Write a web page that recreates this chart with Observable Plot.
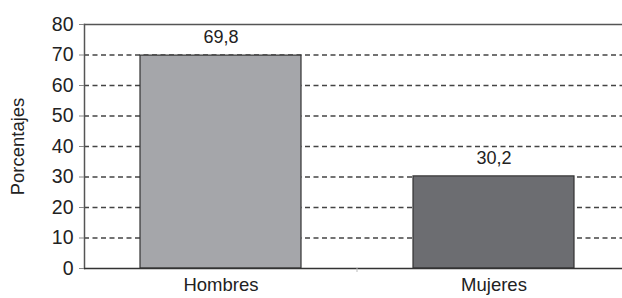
<!DOCTYPE html>
<html>
<head>
<meta charset="utf-8">
<script src="https://cdn.jsdelivr.net/npm/d3@7"></script>
<script src="https://cdn.jsdelivr.net/npm/@observablehq/plot@0.6"></script>
<style>
  html, body { margin: 0; padding: 0; background: #fff; overflow: hidden; }
  #chart { width: 622px; height: 298px; overflow: hidden; }
</style>
</head>
<body>
<div id="chart"></div>
<script>
const categories = ["Hombres", "Mujeres"];
const values = [69.8, 30.2];
const valueLabels = ["69,8", "30,2"];
const barColors = ["#a5a6aa", "#6c6d71"];
const yTicks = [0, 10, 20, 30, 40, 50, 60, 70, 80];
const gridTicks = [10, 20, 30, 40, 50, 60, 70];

const data = categories.map((c, i) => ({cat: c, value: values[i], label: valueLabels[i], color: barColors[i]}));
const font = "Liberation Sans, Arial, Helvetica, sans-serif";

const plot = Plot.plot({
  width: 622,
  height: 298,
  marginLeft: 84,
  marginRight: -8,
  marginTop: 24,
  marginBottom: 30,
  style: {fontFamily: font, fontSize: "18px", color: "#222", background: "#fff"},
  x: {domain: categories, paddingInner: 0.41, paddingOuter: 0.205, label: null},
  y: {domain: [0, 80], label: null},
  marks: [
    Plot.ruleY(gridTicks, {stroke: "#444", strokeWidth: 1.3, strokeDasharray: "5,3.5"}),
    Plot.barY(data, {x: "cat", y: "value", fill: "color", stroke: "#333", strokeWidth: 1.2}),
    Plot.text(data, {x: "cat", y: "value", text: "label", dy: -18, fill: "#222", fontSize: 18}),
    Plot.frame({anchor: "top", stroke: "#555", strokeWidth: 1.5}),
    Plot.frame({anchor: "left", stroke: "#555", strokeWidth: 1.5}),
    Plot.ruleY([0], {stroke: "#333", strokeWidth: 1.5}),
    Plot.axisY({ticks: yTicks, tickSize: 5, tickPadding: 6, stroke: "#888", fontSize: 19.5, label: null}),
    Plot.axisX({tickSize: 0, tickPadding: 9, fontSize: 18.5, label: null}),
    Plot.text(["Porcentajes"], {frameAnchor: "left", textAnchor: "middle", dx: -66, rotate: -90, fontSize: 18.5, fill: "#222"})
  ]
});

// small separator tick between the two category bands, placed from the band scale
const xs = plot.scale("x");
const ys = plot.scale("y");
const step = xs.step;
const boundary = xs.apply(categories[1]) - (step - xs.bandwidth) / 2;
d3.select(plot).append("line")
  .attr("x1", boundary).attr("x2", boundary)
  .attr("y1", ys.apply(0)).attr("y2", ys.apply(0) + 4)
  .attr("stroke", "#bbb").attr("stroke-width", 1);

document.getElementById("chart").append(plot);
</script>
</body>
</html>
